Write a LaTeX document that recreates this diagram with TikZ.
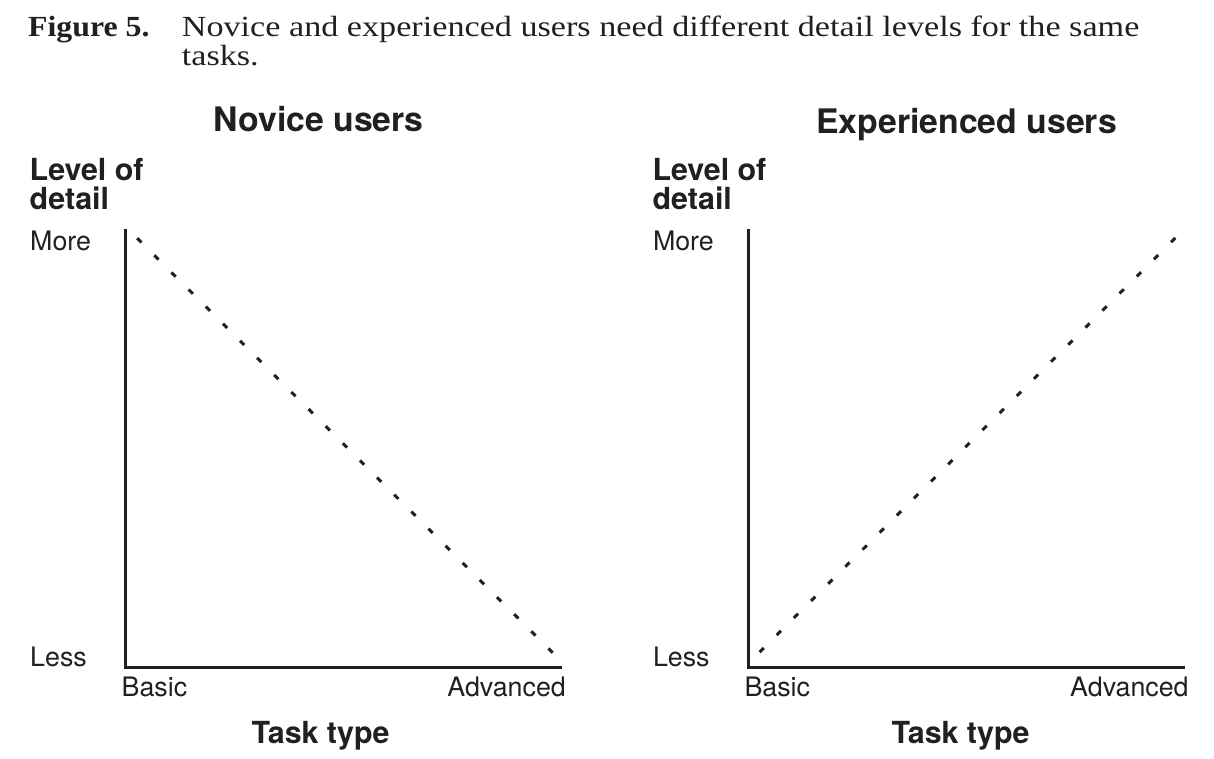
\documentclass[tikz,border=0pt]{standalone}
\usepackage{fontspec}
\setmainfont{Liberation Serif}
\setsansfont{TeX Gyre Heros}
\newfontfamily\capfont{Liberation Serif}[FakeStretch=1.17]
\newfontfamily\capboldfont{Liberation Serif Bold}[FakeStretch=1.09]
\definecolor{ink}{HTML}{231F20}
\begin{document}
\begin{tikzpicture}[x=1pt,y=-1pt,
  axis/.style={line width=2.4pt, draw=ink, line join=miter},
  trend/.style={line width=3pt, draw=ink, dash pattern=on 6pt off 18.2pt},
  lab/.style={font=\sffamily\fontsize{26.8}{30}\selectfont, inner sep=0pt, text=ink},
  hd/.style={font=\sffamily\bfseries\fontsize{30.4}{29}\selectfont, inner sep=0pt, text=ink},
  ttl/.style={font=\sffamily\bfseries\fontsize{33.8}{36}\selectfont, inner sep=0pt, text=ink},
  capt/.style={font=\capfont\fontsize{29.2}{29}\selectfont, inner sep=0pt, text=ink}]
\useasboundingbox[fill=white] (0,0) rectangle (1214,758);

% caption
\node[capt, anchor=base west, font=\capboldfont\fontsize{29.2}{29}\selectfont] (fig) at (28,36) {Figure 5.};
\node[capt, anchor=base west] (cap1) at (181.7,36) {Novice and experienced users need different detail levels for the same};
\node[capt, anchor=base west] (cap2) at (181.7,65) {tasks.};

% ---- left plot ----
\node[ttl, anchor=base] (t1) at (318.7,131) {Novice users};
\node[hd, anchor=base west] (l1a) at (29.5,180) {Level of};
\node[hd, anchor=base west] (l1b) at (29.5,209) {detail};
\node[lab, anchor=base west] (m1) at (30,250.7) {More};
\node[lab, anchor=base west] (s1) at (30,666) {Less};
\node[lab, anchor=base west] (b1) at (121.5,696) {Basic};
\node[lab, anchor=base east] (a1) at (566,696) {Advanced};
\node[hd, anchor=base] (x1) at (320.5,743) {Task type};
\coordinate (top1) at (125.5,229);
\coordinate (o1) at (125.5,667.3);
\coordinate (end1) at (562.3,667.3);
\draw[axis] (top1) -- (o1) -- (end1);
\coordinate (d1s) at (137.2,238.2);
\coordinate (d1e) at (552.8,652.8);
\draw[trend] (d1s) -- (d1e);

% ---- right plot ----
\node[ttl, anchor=base] (t2) at (966.7,133.3) {Experienced users};
\node[hd, anchor=base west] (l2a) at (652.3,180) {Level of};
\node[hd, anchor=base west] (l2b) at (652.3,209) {detail};
\node[lab, anchor=base west] (m2) at (652.8,250.7) {More};
\node[lab, anchor=base west] (s2) at (652.8,666) {Less};
\node[lab, anchor=base west] (b2) at (744.3,696) {Basic};
\node[lab, anchor=base east] (a2) at (1188.8,696) {Advanced};
\node[hd, anchor=base] (x2) at (960.5,743) {Task type};
\coordinate (top2) at (748.3,229);
\coordinate (o2) at (748.3,667.3);
\coordinate (end2) at (1185.1,667.3);
\draw[axis] (top2) -- (o2) -- (end2);
\coordinate (d2s) at (759.6,652.1);
\coordinate (d2e) at (1175.4,237.9);
\draw[trend] (d2s) -- (d2e);
\end{tikzpicture}
\end{document}
